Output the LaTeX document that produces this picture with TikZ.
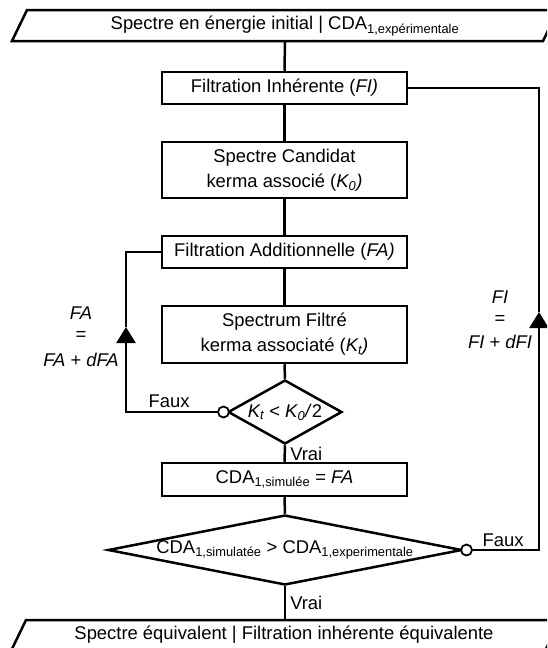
\documentclass[tikz,border=0pt]{standalone}
\usepackage{fontspec}
\setmainfont{Liberation Sans}
\usetikzlibrary{shapes.geometric,arrows.meta}
\newcommand\myfs{\fontsize{18.4}{25}\selectfont}
\begin{document}
\begin{tikzpicture}[x=1pt,y=-1pt,line width=2.5pt,
  box/.style={draw,minimum width=245pt,inner sep=0pt,align=center,font=\myfs},
  dia/.style={draw,shape=diamond,inner sep=0pt,font=\myfs},
  lbl/.style={inner sep=0pt,font=\myfs,align=center},
  exitc/.style={circle,draw,fill=white,minimum size=11pt,inner sep=0pt,line width=1.8pt},
  upar/.style={-{Triangle[width=19pt,length=16pt]}}]
\useasboundingbox (0,0) rectangle (547,648);
\begin{scope}
\clip (0,0) rectangle (547,648);
% top and bottom parallelograms
\draw (27,10) -- (558,10) -- (543,41) -- (12,41) -- cycle;
\node[lbl] (top) at (285,26) {Spectre en énergie initial | CDA\textsubscript{1,expérimentale}};
\coordinate (topb) at (285,41);
\draw (26,620) -- (560,620) -- (545,651) -- (11,651) -- cycle;
\node[lbl] (bot) at (284,635) {Spectre équivalent | Filtration inhérente équivalente};
\coordinate (bott) at (285,620);
% boxes
\node[box,minimum height=32pt] (fi) at (284.5,88) {Filtration Inhérente (\textit{FI)}};
\node[box,minimum height=56pt] (sc) at (284.5,170) {Spectre Candidat\\ kerma associé (\textit{K\textsubscript{0})}};
\node[box,minimum height=32pt] (fa) at (284.5,252) {Filtration Additionnelle (\textit{FA)}};
\node[box,minimum height=57pt] (sf) at (284.5,334.5) {Spectrum Filtré\\ kerma associaté (\textit{K\textsubscript{t})}};
\node[dia,minimum width=114pt,minimum height=64pt] (d1) at (285,412) {\makebox[0pt]{\textit{K\textsubscript{t}} < \textit{K\textsubscript{0}/}2}};
\node[box,minimum height=33pt] (cda) at (284.5,479.5) {CDA\textsubscript{1,simulée} = \textit{FA}};
\node[dia,minimum width=354pt,minimum height=70pt] (d2) at (285,550) {\makebox[0pt]{CDA\textsubscript{1,simulatée} > CDA\textsubscript{1,experimentale}}};
% main flow
\draw (topb) -- (fi.north);
\draw (fi.south) -- (sc.north);
\draw (sc.south) -- (fa.north);
\draw (fa.south) -- (sf.north);
\draw (sf.south) -- (d1.north);
\draw (d1.south) -- (cda.north);
\draw (cda.south) -- (d2.north);
\draw (d2.south) -- (bott);
% exit circles
\node[exitc] (c1) at (223.5,412) {};
\node[exitc] (c2) at (466.5,550) {};
% left loop
\coordinate (l1) at (126,412);
\coordinate (ltip) at (126,327);
\coordinate (l2) at (126,252);
\draw[upar] (c1.west) -- (l1) -- (ltip);
\draw (ltip) -- (l2) -- (fa.west);
% right loop
\coordinate (r1) at (539,550);
\coordinate (rtip) at (539,312);
\coordinate (r2) at (539,88);
\draw[upar] (c2.east) -- (r1) -- (rtip);
\draw (rtip) -- (r2) -- (fi.east);
% labels
\node[lbl] (fal1) at (81,313) {\textit{FA}};
\node[lbl] (fal2) at (81,336) {=};
\node[lbl] (fal3) at (81,360) {\textit{FA} + \textit{dFA}};
\node[lbl] (fil1) at (500,297) {\textit{FI}};
\node[lbl] (fil2) at (500,320) {=};
\node[lbl] (fil3) at (500,342) {\textit{FI} + \textit{dFI}};
\node[lbl] (faux1) at (169,401) {Faux};
\node[lbl] (faux2) at (503,540) {Faux};
\node[lbl,anchor=west] (vrai1) at (289,454) {Vrai};
\node[lbl,anchor=west] (vrai2) at (289,603) {Vrai};
\end{scope}
\end{tikzpicture}
\end{document}
